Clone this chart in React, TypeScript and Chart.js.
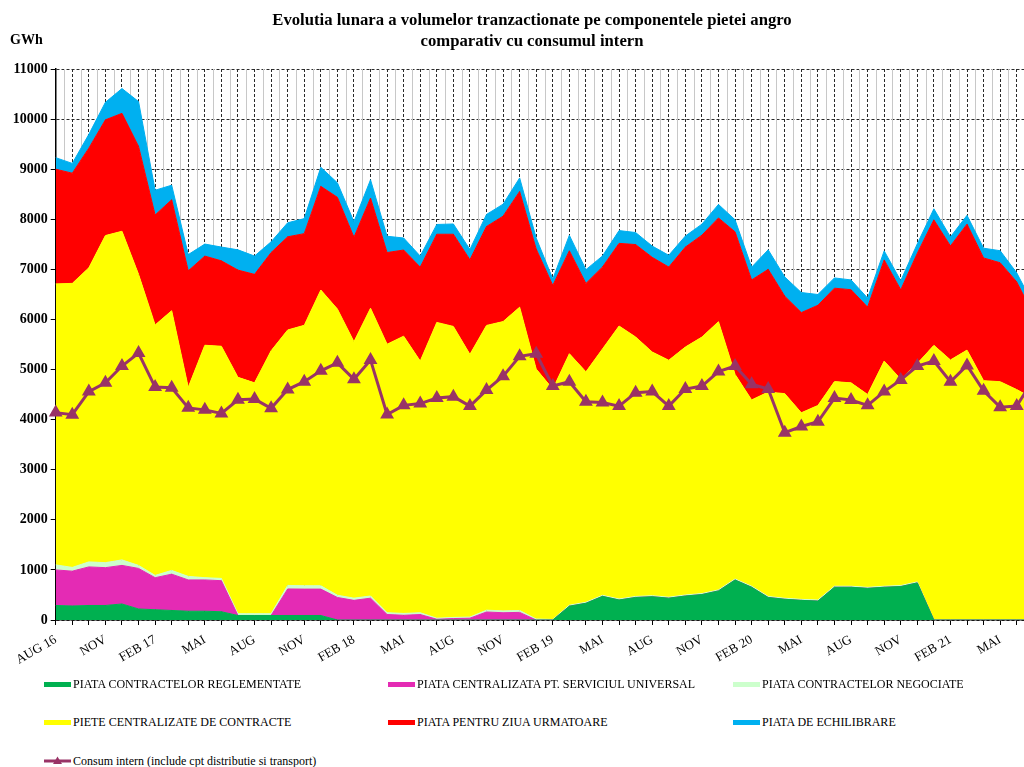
import React, { useEffect, useRef } from "react";
import { Chart, registerables } from "chart.js";

Chart.register(...registerables);

const FONT = "'Liberation Serif', 'Times New Roman', serif";

const months = [
  "AUG 16", "SEP", "OCT", "NOV", "DEC", "IAN", "FEB 17", "MAR", "APR", "MAI", "IUN", "IUL",
  "AUG", "SEP", "OCT", "NOV", "DEC", "IAN", "FEB 18", "MAR", "APR", "MAI", "IUN", "IUL",
  "AUG", "SEP", "OCT", "NOV", "DEC", "IAN", "FEB 19", "MAR", "APR", "MAI", "IUN", "IUL",
  "AUG", "SEP", "OCT", "NOV", "DEC", "IAN", "FEB 20", "MAR", "APR", "MAI", "IUN", "IUL",
  "AUG", "SEP", "OCT", "NOV", "DEC", "IAN", "FEB 21", "MAR", "APR", "MAI", "IUN", "IUL",
];

const reglementate = [
  290, 280, 290, 290, 320, 220, 205, 190, 175, 175, 165,
  90, 90, 90, 90, 90, 90,
  0, 0, 0, 0, 0, 0, 0, 0, 0, 0, 0, 0, 0, 0,
  276, 334, 472, 399, 450, 465, 436, 479, 508, 581, 799, 654, 450, 414, 392, 378, 654, 654, 632, 654, 668, 741,
  0, 0, 0, 0, 0, 0, 0,
];

const serviciuUniversal = [
  710, 695, 770, 755, 770, 810, 640, 725, 625, 625, 620,
  0, 0, 0,
  530, 527, 527, 450, 392, 436, 110, 94, 109, 15, 29, 36, 160, 145, 152,
  0, 0, 0, 0, 0, 0, 0, 0, 0, 0, 0, 0, 0, 0, 0, 0, 0, 0, 0, 0, 0, 0, 0, 0, 0, 0, 0, 0, 0, 0, 0,
];

const negociate = [
  100, 75, 100, 100, 110, 60, 45, 75, 70, 45, 45,
  35, 35, 35, 70, 66, 66,
  44, 44, 43, 36, 37, 36, 21, 22, 22, 36, 37, 38,
  20, 10, 20, 20, 20, 20, 20, 20, 20, 20, 20, 20, 20, 20, 20, 20, 20, 20, 20, 20, 20, 20, 20, 20,
  0, 0, 0, 0, 0, 0, 0,
];

const centralizate = [
  5610, 5670, 5870, 6530, 6560, 5810, 5000, 5185, 3775, 4640,
  4635, 4720, 4610, 5250, 5100, 5200, 5905, 5715, 5120, 5745,
  5360, 5535, 5025, 5905, 5810, 5245, 5685, 5775, 6055, 4990,
  4600, 5020, 4600, 4920, 5450, 5180, 4865, 4730, 4950, 5120,
  5355, 4085, 3720, 4080, 4085, 3725, 3885, 4085, 4060, 3850,
  4495, 4120, 4360, 5483, 5192, 5388, 4778, 4757, 4600, 4420,
];

const pzu = [
  2290, 2200, 2390, 2310, 2355, 2555, 2195, 2215, 2325, 1780,
  1705, 2140, 2165, 1960, 1860, 1830, 2070, 2230, 2085, 2200,
  1830, 1720, 1875, 1760, 1840, 1890, 1975, 2105, 2310, 2395,
  2070, 2055, 1765, 1635, 1650, 1845, 1890, 1860, 1995, 2035,
  2070, 2845, 2395, 2450, 1945, 2000, 2000, 1865, 1860, 1745,
  2020, 1785, 2200, 2505, 2275, 2515, 2450, 2375, 2150, 1680,
];

const echilibrare = [
  230, 195, 275, 350, 495, 895, 495, 290, 325, 240,
  275, 405, 365, 215, 280, 300, 380, 290, 310, 365,
  325, 240, 220, 195, 205, 205, 240, 240, 270, 220,
  130, 310, 275, 220, 255, 240, 225, 235, 220, 220,
  270, 240, 255, 390, 385, 400, 215, 205, 195, 180,
  180, 180, 190, 220, 180, 175, 195, 240, 180, 200,
];

const consum = [
  4140, 4100, 4560, 4735, 5070, 5330, 4650, 4635, 4235, 4195,
  4125, 4395, 4410, 4225, 4600, 4757, 4974, 5134, 4807, 5192,
  4103, 4285, 4321, 4430, 4459, 4270, 4590, 4866, 5265, 5316,
  4670, 4757, 4357, 4343, 4270, 4539, 4560, 4270, 4611, 4670,
  4960, 5069, 4706, 4611, 3740, 3863, 3958, 4430, 4393, 4285,
  4560, 4793, 5069, 5171, 4757, 5083, 4575, 4249, 4270, 4800,
];

const titleLines = [
  "Evolutia lunara a volumelor tranzactionate pe componentele pietei angro",
  "comparativ cu consumul intern",
];

const areaSeries = [
  { label: "PIATA CONTRACTELOR REGLEMENTATE", data: reglementate, color: "#00B050" },
  { label: "PIATA CENTRALIZATA PT. SERVICIUL UNIVERSAL", data: serviciuUniversal, color: "#E42BB4" },
  { label: "PIATA CONTRACTELOR NEGOCIATE", data: negociate, color: "#CCFFCC" },
  { label: "PIETE CENTRALIZATE DE CONTRACTE", data: centralizate, color: "#FFFF00" },
  { label: "PIATA PENTRU ZIUA URMATOARE", data: pzu, color: "#FF0000" },
  { label: "PIATA DE ECHILIBRARE", data: echilibrare, color: "#00B0F0" },
];
const consumLabel = "Consum intern (include cpt distributie si transport)";
const consumColor = "#993366";

const legendPos = [
  { x: 44, y: 684 },
  { x: 388, y: 684 },
  { x: 733, y: 684 },
  { x: 44, y: 722 },
  { x: 388, y: 722 },
  { x: 733, y: 722 },
];

export default function App() {
  const ref = useRef<HTMLCanvasElement>(null);

  useEffect(() => {
    if (!ref.current) return;
    const midGrid = {
      id: "midGrid",
      beforeDatasetsDraw(chart: any) {
        const xs = chart.scales.x;
        const { top, bottom } = chart.chartArea;
        const ctx = chart.ctx;
        ctx.save();
        ctx.strokeStyle = "#c8c8c8";
        ctx.lineWidth = 1;
        for (let i = 0; i < months.length - 1; i++) {
          const px = (xs.getPixelForValue(i) + xs.getPixelForValue(i + 1)) / 2;
          ctx.beginPath();
          ctx.moveTo(Math.round(px) + 0.5, top);
          ctx.lineTo(Math.round(px) + 0.5, bottom);
          ctx.stroke();
        }
        ctx.restore();
      },
    };

    const datasets: any[] = [
      {
        label: consumLabel,
        data: consum,
        stack: "consum",
        order: 0,
        borderColor: consumColor,
        backgroundColor: consumColor,
        borderWidth: 3,
        pointStyle: "triangle",
        pointRadius: 5,
        pointBackgroundColor: consumColor,
        pointBorderColor: consumColor,
        fill: false,
        tension: 0,
      },
      ...areaSeries.map((s, i) => ({
        label: s.label,
        data: s.data,
        stack: "piata",
        order: 1,
        borderColor: s.color,
        backgroundColor: s.color,
        borderWidth: 1,
        pointRadius: 0,
        fill: i === 0 ? "origin" : "-1",
        tension: 0,
      })),
    ];

    const chart = new Chart(ref.current, {
      type: "line",
      data: { labels: months, datasets },
      plugins: [midGrid],
      options: {
        responsive: false,
        animation: false,
        layout: { padding: { left: 0, right: 30.7, top: 69, bottom: 0 } },
        plugins: {
          legend: { display: false },
          tooltip: { enabled: false },
          title: { display: false },
        },
        scales: {
          x: {
            type: "category",
            offset: false,
            grid: { color: "#2a2a2a", lineWidth: 1, tickLength: 5, tickColor: "#000", tickBorderDash: [] },
            border: { display: true, color: "#000", width: 1.5, dash: [3, 2] },
            ticks: {
              autoSkip: false,
              maxRotation: 30,
              minRotation: 30,
              padding: 7,
              color: "#000",
              font: { family: FONT, size: 13 },
              callback: (_v: any, idx: number) => (idx % 3 === 0 ? months[idx] : ""),
            },
            afterFit: (s: any) => {
              s.height = 60;
            },
          },
          y: {
            stacked: true,
            min: 0,
            max: 11000,
            grid: { color: "#2a2a2a", lineWidth: 1, tickLength: 5, tickColor: "#000", tickBorderDash: [] },
            border: { display: true, color: "#000", width: 1.5, dash: [3, 2] },
            ticks: {
              stepSize: 1000,
              padding: 3,
              color: "#000",
              font: { family: FONT, size: 14, weight: "bold" },
              callback: (v: any) => String(v),
            },
            afterFit: (s: any) => {
              s.width = 55.7;
            },
          },
        },
      },
    } as any);
    return () => chart.destroy();
  }, []);

  return (
    <div
      style={{
        position: "fixed",
        left: 0,
        top: 0,
        width: 1024,
        height: 767,
        overflow: "hidden",
        background: "#fff",
        fontFamily: FONT,
      }}
    >
      <canvas ref={ref} width={1064} height={680} style={{ position: "absolute", left: 0, top: 0 }} />
      <div
        style={{
          position: "absolute",
          left: 0,
          top: 9,
          width: 1064,
          textAlign: "center",
          fontWeight: "bold",
          fontSize: 16.7,
          lineHeight: "21px",
          color: "#000",
        }}
      >
        {titleLines.map((t) => (
          <div key={t}>{t}</div>
        ))}
      </div>
      <div
        style={{
          position: "absolute",
          left: 10,
          top: 32,
          fontWeight: "bold",
          fontSize: 14,
          lineHeight: "16px",
          color: "#000",
        }}
      >
        GWh
      </div>
      {areaSeries.map((s, i) => (
        <div
          key={s.label}
          style={{
            position: "absolute",
            left: legendPos[i].x,
            top: legendPos[i].y - 8,
            height: 16,
            display: "flex",
            alignItems: "center",
            fontSize: 12,
            whiteSpace: "nowrap",
            color: "#000",
          }}
        >
          <span style={{ display: "inline-block", width: 27, height: 5, background: s.color, marginRight: 2 }} />
          {s.label}
        </div>
      ))}
      <div
        style={{
          position: "absolute",
          left: 44,
          top: 761 - 8,
          height: 16,
          display: "flex",
          alignItems: "center",
          fontSize: 12,
          whiteSpace: "nowrap",
          color: "#000",
        }}
      >
        <svg width={27} height={10} style={{ marginRight: 2 }}>
          <line x1={0} y1={5} x2={27} y2={5} stroke={consumColor} strokeWidth={3} />
          <polygon points="13.5,0.5 18,8 9,8" fill={consumColor} />
        </svg>
        {consumLabel}
      </div>
    </div>
  );
}
